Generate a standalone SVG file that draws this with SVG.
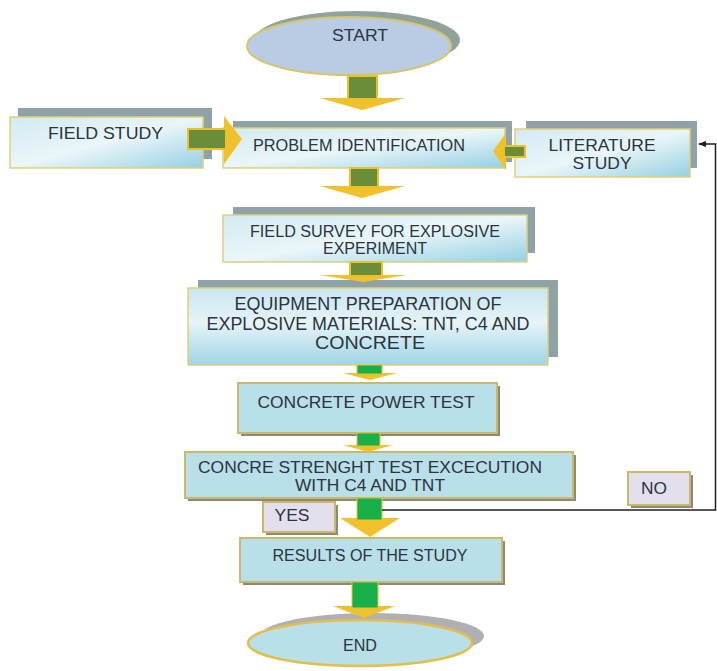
<svg xmlns="http://www.w3.org/2000/svg" width="717" height="671" viewBox="0 0 717 671">
<defs>
<linearGradient id="gBox" x1="0" y1="0" x2="1" y2="1">
<stop offset="0" stop-color="#d3eaf2"/>
<stop offset="0.5" stop-color="#eaf6f9"/>
<stop offset="1" stop-color="#94d0e2"/>
</linearGradient>
<linearGradient id="gBox2" x1="0" y1="0" x2="0" y2="1">
<stop offset="0" stop-color="#c9e6ef"/>
<stop offset="0.45" stop-color="#e6f4f8"/>
<stop offset="1" stop-color="#9fd5e5"/>
</linearGradient>
<marker id="ah" markerWidth="8" markerHeight="6" refX="7" refY="3" orient="auto" markerUnits="userSpaceOnUse">
<path d="M0,0 L8,3 L0,6 Z" fill="#222"/>
</marker>
</defs>
<style>
.t{font-family:"Liberation Sans",Arial,sans-serif;fill:#2b3440;text-anchor:middle}
.sh{fill:#8fa2a8}
.box{fill:url(#gBox);stroke:#e0cf78;stroke-width:1.5}
.box2{fill:url(#gBox2);stroke:#e0cf78;stroke-width:1.5}
.flat{fill:#b9dfe9;stroke:#cdb76a;stroke-width:2}
.fsh{fill:#8a8a78}
.lab{fill:#e4dfec;stroke:#cdb76a;stroke-width:2}
.olive{fill:#6b8d3a;stroke:#e9c12b;stroke-width:2}
.green{fill:#17b04b;stroke:#e9c12b;stroke-width:1}
.head{fill:#f0c12a}
.ln{stroke:#1f1f1f;stroke-width:1.5;fill:none}
</style>

<g id="start">
<ellipse cx="357" cy="40" rx="103" ry="29" fill="#8fa39a"/>
<ellipse cx="349" cy="46" rx="102" ry="29" fill="#b9cce3" stroke="#d6c56c" stroke-width="2"/>
<text class="t" x="360" y="41" font-size="17" textLength="56" lengthAdjust="spacingAndGlyphs">START</text>
</g>

<g id="field-study">
<rect class="sh" x="18" y="108" width="194" height="51"/>
<rect class="box" x="10" y="117" width="193" height="51"/>
<text class="t" x="105.5" y="139" font-size="17" textLength="115" lengthAdjust="spacingAndGlyphs">FIELD STUDY</text>
</g>

<g id="problem-identification">
<rect class="sh" x="233" y="121" width="279" height="41"/>
<rect class="box" x="223" y="128" width="282" height="40"/>
<text class="t" x="359" y="151" font-size="16" textLength="212" lengthAdjust="spacingAndGlyphs">PROBLEM IDENTIFICATION</text>
</g>

<g id="literature-study">
<rect class="sh" x="526" y="121" width="171" height="47"/>
<rect class="box" x="515" y="129" width="175" height="48"/>
<text class="t" x="602" y="151" font-size="17" textLength="107" lengthAdjust="spacingAndGlyphs">LITERATURE</text>
<text class="t" x="602" y="169" font-size="17" textLength="59" lengthAdjust="spacingAndGlyphs">STUDY</text>
</g>

<g id="field-survey">
<rect class="sh" x="233" y="207" width="302" height="46"/>
<rect class="box" x="223" y="215" width="304" height="47"/>
<text class="t" x="375" y="237" font-size="16" textLength="250" lengthAdjust="spacingAndGlyphs">FIELD SURVEY FOR EXPLOSIVE</text>
<text class="t" x="375" y="254" font-size="16" textLength="104" lengthAdjust="spacingAndGlyphs">EXPERIMENT</text>
</g>

<g id="equipment-preparation">
<rect class="sh" x="198" y="280" width="360" height="77"/>
<rect class="box2" x="188" y="288" width="360" height="77"/>
<text class="t" x="368" y="309.5" font-size="18" textLength="267" lengthAdjust="spacingAndGlyphs">EQUIPMENT PREPARATION OF</text>
<text class="t" x="368" y="329.5" font-size="18" textLength="323" lengthAdjust="spacingAndGlyphs">EXPLOSIVE MATERIALS: TNT, C4 AND</text>
<text class="t" x="370" y="348.5" font-size="18" textLength="110" lengthAdjust="spacingAndGlyphs">CONCRETE</text>
</g>

<g id="concrete-power-test">
<rect class="fsh" x="241" y="386" width="259" height="50"/>
<rect class="flat" x="238" y="383" width="259" height="50"/>
<text class="t" x="366" y="408" font-size="17" textLength="217" lengthAdjust="spacingAndGlyphs">CONCRETE POWER TEST</text>
</g>

<g id="strength-test">
<rect class="fsh" x="188" y="455" width="388" height="46"/>
<rect class="flat" x="185" y="452" width="388" height="46"/>
<text class="t" x="370" y="473" font-size="17" textLength="344" lengthAdjust="spacingAndGlyphs">CONCRE STRENGHT TEST EXCECUTION</text>
<text class="t" x="370" y="491" font-size="17" textLength="150" lengthAdjust="spacingAndGlyphs">WITH C4 AND TNT</text>
</g>

<g id="yes-label">
<rect class="fsh" x="266" y="505" width="72" height="30"/>
<rect class="lab" x="263" y="502" width="72" height="30"/>
<text class="t" x="292" y="521" font-size="16" textLength="35" lengthAdjust="spacingAndGlyphs">YES</text>
</g>

<g id="no-label">
<rect class="fsh" x="631" y="475" width="62" height="33"/>
<rect class="lab" x="628" y="472" width="62" height="33"/>
<text class="t" x="654" y="494" font-size="16" textLength="26" lengthAdjust="spacingAndGlyphs">NO</text>
</g>

<g id="results">
<rect class="fsh" x="243" y="541" width="262" height="44"/>
<rect class="flat" x="240" y="538" width="262" height="44"/>
<text class="t" x="370" y="561" font-size="16" textLength="195" lengthAdjust="spacingAndGlyphs">RESULTS OF THE STUDY</text>
</g>

<g id="end">
<ellipse cx="372" cy="636" rx="112" ry="23" fill="#b0b0b4"/>
<ellipse cx="360" cy="643" rx="112" ry="23" fill="#b9dfe9" stroke="#e2bf4a" stroke-width="2.5"/>
<text class="t" x="360" y="651" font-size="17" textLength="34" lengthAdjust="spacingAndGlyphs">END</text>
</g>

<g id="connectors">
<!-- start -> problem -->
<polygon class="head" points="320,98 405,98 362,110"/>
<rect class="olive" x="348" y="76" width="29" height="23"/>
<!-- field study -> problem -->
<polygon class="head" points="224,116 242,139 224,164"/>
<rect class="olive" x="188" y="129" width="38" height="20"/>
<!-- literature -> problem -->
<polygon class="head" points="506,133 493,151 506,170"/>
<rect class="olive" x="504" y="146" width="21" height="11"/>
<!-- problem -> field survey -->
<polygon class="head" points="320,186 405,186 362,198"/>
<rect class="olive" x="350" y="168" width="28" height="19"/>
<!-- field survey -> equipment -->
<polygon class="head" points="320,275 407,275 363,282"/>
<rect class="olive" x="350" y="262" width="32" height="14"/>
<!-- equipment -> concrete power -->
<polygon class="head" points="343,373 397,373 370,380"/>
<rect class="green" x="357" y="365" width="25" height="9"/>
<!-- concrete power -> strength -->
<polygon class="head" points="343,445 393,445 368,452"/>
<rect class="green" x="357" y="433" width="23" height="13"/>
<!-- strength -> results (YES) -->
<polygon class="head" points="340,518 400,518 370,537"/>
<rect class="green" x="357" y="498" width="25" height="22"/>
<!-- results -> end -->
<polygon class="head" points="333,606 395,606 364,618"/>
<rect class="green" x="352" y="582" width="26" height="26"/>
<!-- NO loop back to literature study -->
<path class="ln" d="M382,510 H715.5 V144 H699" marker-end="url(#ah)"/>
</g>
</svg>
